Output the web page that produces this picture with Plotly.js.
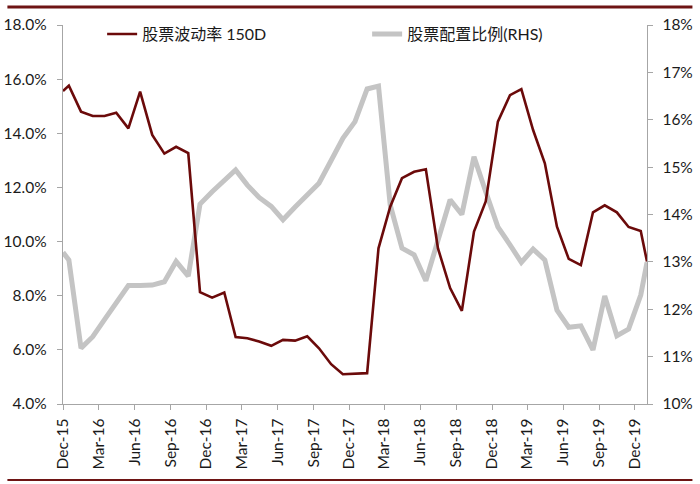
<!DOCTYPE html>
<html>
<head>
<meta charset="utf-8">
<script src="https://cdn.plot.ly/plotly-3.0.1.min.js"></script>
<style>
html,body{margin:0;padding:0;background:#fff;}
#chart{width:700px;height:484px;}
</style>
</head>
<body>
<div id="chart"></div>
<script>
// Dates: first point at axis start, then mid-month points Dec-15 .. Dec-19, last point at axis end
const dates = [
  '2015-12-01',
  '2015-12-16','2016-01-16','2016-02-15','2016-03-16','2016-04-15','2016-05-16','2016-06-15','2016-07-16','2016-08-16','2016-09-15','2016-10-16','2016-11-15',
  '2016-12-16','2017-01-16','2017-02-14','2017-03-16','2017-04-15','2017-05-16','2017-06-15','2017-07-16','2017-08-16','2017-09-15','2017-10-16','2017-11-15',
  '2017-12-16','2018-01-16','2018-02-14','2018-03-16','2018-04-15','2018-05-16','2018-06-15','2018-07-16','2018-08-16','2018-09-15','2018-10-16','2018-11-15',
  '2018-12-16','2019-01-16','2019-02-14','2019-03-16','2019-04-15','2019-05-16','2019-06-15','2019-07-16','2019-08-16','2019-09-15','2019-10-16','2019-11-15',
  '2019-12-16',
  '2020-01-01'
];

// 股票波动率 150D (left axis, %)
const volatility = [
  15.56,
  15.76,14.80,14.64,14.64,14.76,14.18,15.54,13.94,13.25,13.50,13.27,8.13,
  7.93,8.12,6.47,6.43,6.31,6.15,6.37,6.34,6.50,6.06,5.47,5.10,
  5.11,5.14,9.75,11.29,12.34,12.58,12.67,9.75,8.28,7.44,10.37,11.48,
  14.43,15.41,15.63,14.12,12.89,10.55,9.36,9.13,11.08,11.34,11.08,10.54,
  10.39,
  9.26
];

// 股票配置比例 (right axis, %)
const allocation = [
  13.20,
  13.04,11.18,11.42,11.78,12.13,12.50,12.50,12.51,12.58,13.01,12.70,14.22,
  14.48,14.72,14.94,14.62,14.36,14.17,13.89,14.16,14.41,14.66,15.14,15.61,
  15.96,16.65,16.71,14.20,13.29,13.15,12.60,13.43,14.31,14.00,15.22,14.48,
  13.74,13.36,12.99,13.27,13.04,11.98,11.62,11.65,11.14,12.28,11.44,11.58,
  12.30,
  12.99
];

const seriesNames = ['股票波动率 150D', '股票配置比例(RHS)'];

const FONT = 'Lato, "Noto Sans CJK SC", sans-serif';
const AXIS_COLOR = '#A6A6A6';
const RED = '#6B0A0A';
const GRAY = '#C4C4C4';
const BORDER = '#6E1414';

const traces = [
  {
    x: dates, y: volatility, name: seriesNames[0],
    type: 'scatter', mode: 'lines', yaxis: 'y2',
    line: {color: RED, width: 2.6}
  },
  {
    x: dates, y: allocation, name: seriesNames[1],
    type: 'scatter', mode: 'lines', yaxis: 'y',
    line: {color: GRAY, width: 5}
  }
];

const layout = {
  width: 700, height: 484,
  margin: {l: 63, r: 52.5, t: 25, b: 80},
  paper_bgcolor: '#fff', plot_bgcolor: '#fff',
  font: {family: FONT, size: 14, color: '#1a1a1a'},
  showlegend: true,
  legend: {
    orientation: 'h', x: 0.067, xanchor: 'left', y: 0.976, yanchor: 'middle',
    font: {family: FONT, size: 16, color: '#1a1a1a'},
    bgcolor: 'rgba(0,0,0,0)', entrywidth: 220, entrywidthmode: 'pixels',
    traceorder: 'normal'
  },
  xaxis: {
    type: 'date',
    range: ['2015-12-01', '2020-01-01'],
    tick0: '2015-12-01', dtick: 'M3', tickformat: '%b-%y',
    tickangle: -90,
    ticks: 'outside', ticklen: 5, tickcolor: AXIS_COLOR, tickwidth: 1,
    ticklabelstandoff: 2,
    showline: true, linecolor: AXIS_COLOR, linewidth: 1.3,
    showgrid: false, zeroline: false,
    tickfont: {family: FONT, size: 15.5, color: '#1a1a1a'}
  },
  yaxis: {
    side: 'right',
    range: [10, 18], dtick: 1, tick0: 10,
    ticksuffix: '%',
    ticks: 'outside', ticklen: 5, tickcolor: AXIS_COLOR,
    ticklabelstandoff: 6,
    showline: true, linecolor: AXIS_COLOR, linewidth: 1.3,
    showgrid: false, zeroline: false,
    tickfont: {family: FONT, size: 15.5, color: '#1a1a1a'}
  },
  yaxis2: {
    overlaying: 'y', side: 'left',
    range: [4, 18], dtick: 2, tick0: 4,
    tickformat: '.1f', ticksuffix: '%',
    ticks: 'outside', ticklen: 5, tickcolor: AXIS_COLOR,
    ticklabelstandoff: 7,
    showline: true, linecolor: AXIS_COLOR, linewidth: 1.3,
    showgrid: false, zeroline: false,
    tickfont: {family: FONT, size: 15.5, color: '#1a1a1a'}
  },
  shapes: [
    {type: 'line', xref: 'paper', yref: 'paper', x0: -0.0952, x1: 1.0778, y0: 1.0475, y1: 1.0475,
     line: {color: BORDER, width: 3}},
    {type: 'line', xref: 'paper', yref: 'paper', x0: -0.0952, x1: 1.0778, y0: -0.2005, y1: -0.2005,
     line: {color: BORDER, width: 2.2}}
  ]
};

Plotly.newPlot('chart', traces, layout, {displayModeBar: false, staticPlot: true});
</script>
</body>
</html>
